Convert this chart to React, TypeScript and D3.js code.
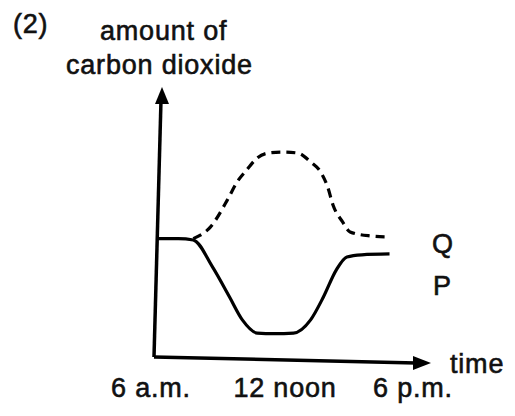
import * as d3 from "d3";

// hours since midnight, CO2 amount (arbitrary units)
const pHours = [6, 7.0, 7.7, 8.6, 9.4, 10.0, 10.7, 11.5, 12.4, 13.2, 13.8, 14.4, 14.9, 15.6, 16.9];
const pValues = [44, 44, 43.5, 33.5, 22.3, 13.8, 8.9, 8.7, 8.9, 13.8, 22.3, 32.3, 37.2, 38, 38.3];

const qHours = [7.7, 8.5, 9.3, 9.75, 10.2, 10.7, 11.2, 11.9, 12.6, 13.2, 13.7, 14.0, 14.25, 14.7, 15.05, 16.0, 16.85];
const qValues = [44, 48.3, 58.4, 65, 69.5, 74, 75.8, 76.2, 75.8, 72.5, 68.4, 63.2, 56.5, 50.2, 46.5, 45, 44.6];

const tickHours = [6, 12, 18];
const tickLabels = ["6 a.m.", "12 noon", "6 p.m."];

const W = 515;
const H = 416;
const font = "'Liberation Sans', Arial, sans-serif";

export default function App() {
  const x = d3.scaleLinear().domain([6, 18]).range([157, 413]);
  const y = d3.scaleLinear().domain([0, 100]).range([357, 88]);

  const line = d3
    .line<[number, number]>()
    .x((d) => x(d[0]))
    .y((d) => y(d[1]))
    .curve(d3.curveMonotoneX);

  const pPath = line(pHours.map((h, i) => [h, pValues[i]]) as [number, number][]) || "";
  const qPath = line(qHours.map((h, i) => [h, qValues[i]]) as [number, number][]) || "";

  // scanned text looks a bit heavier than plain Arial
  const txt = {
    fontFamily: font,
    fontSize: 27,
    fill: "#111",
    stroke: "#111",
    strokeWidth: 0.6,
    letterSpacing: 0.8,
  } as const;

  return (
    <svg
      width={W}
      height={H}
      style={{ position: "fixed", left: 0, top: 0, background: "#fff" }}
    >
      {/* axes */}
      <line x1={154} y1={357} x2={161} y2={100} stroke="#000" strokeWidth={3.5} />
      <path d="M162,87 L155,104 L169,104 Z" fill="#000" />
      <line x1={154} y1={357} x2={416} y2={363} stroke="#000" strokeWidth={3.5} />
      <path d="M431,363 L413,356 L413,370 Z" fill="#000" />

      {/* curves */}
      <path d={qPath} fill="none" stroke="#000" strokeWidth={3.2} strokeDasharray="9,6" />
      <path d={pPath} fill="none" stroke="#000" strokeWidth={3.2} />

      {/* texts */}
      <text x={13} y={33} {...txt}>(2)</text>
      <text x={100} y={40} {...txt}>amount of</text>
      <text x={66} y={74} {...txt}>carbon dioxide</text>
      <text x={432} y={253} {...txt}>Q</text>
      <text x={433} y={295} {...txt}>P</text>
      <text x={450} y={373} {...txt}>time</text>
      {tickHours.map((h, i) => (
        <text key={h} x={x(h) - (i === 0 ? 6 : 0)} y={397} textAnchor="middle" {...txt}>
          {tickLabels[i]}
        </text>
      ))}
    </svg>
  );
}
